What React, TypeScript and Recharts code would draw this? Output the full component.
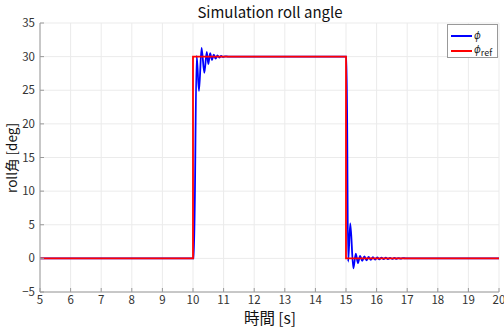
import React from "react";
import { LineChart, Line, XAxis, YAxis, CartesianGrid } from "recharts";

// reference step (phi_ref)
const refT = [5, 10, 10, 15, 15, 20];
const refV = [0, 0, 30, 30, 0, 0];

// response (phi)
const phiT = [
  5, 10.03, 10.12, 10.195, 10.28, 10.37, 10.45, 10.5, 10.56, 10.62, 10.68,
  10.74, 10.8, 10.86, 10.92, 10.98, 11.05, 11.15, 15.02, 15.07, 15.14, 15.24,
  15.32, 15.39, 15.46, 15.53, 15.6, 15.67, 15.74, 15.81, 15.88, 15.95, 16.02,
  16.09, 16.16, 16.23, 16.3, 16.37, 16.44, 16.51, 16.58, 16.65, 16.72, 16.79,
  16.86, 16.95, 20,
];
const phiV = [
  0, 0, 30.1, 24.9, 31.3, 27.6, 30.7, 28.9, 30.5, 29.5, 30.3, 29.7, 30.2,
  29.85, 30.1, 29.95, 30.05, 30, 30, -0.5, 5.2, -1.5, 0.7, -0.7, 0.35, -0.35,
  0.28, -0.28, 0.22, -0.22, 0.18, -0.18, 0.15, -0.15, 0.12, -0.12, 0.1, -0.1,
  0.08, -0.08, 0.06, -0.06, 0.05, -0.05, 0.04, 0, 0,
];

const xTicks = [5, 6, 7, 8, 9, 10, 11, 12, 13, 14, 15, 16, 17, 18, 19, 20];
const yTicks = [-5, 0, 5, 10, 15, 20, 25, 30, 35];

const refData = refT.map((t, i) => ({ t, v: refV[i] }));
const phiData = phiT.map((t, i) => ({ t, v: phiV[i] }));

const font = "'Noto Sans CJK JP', 'Noto Sans', sans-serif";
const axisColor = "#9a9a9a";
const tickStyle = { fontSize: 11.5, fill: "#333", fontFamily: font };
const fmt = (v: number) => String(v).replace("-", "\u2212");

const App: React.FC = () => {
  return (
    <div
      style={{
        position: "absolute",
        left: 0,
        top: 0,
        width: 504,
        height: 329,
        background: "#fff",
        fontFamily: font,
      }}
    >
      <LineChart
        width={504}
        height={329}
        margin={{ top: 23, right: 5, left: 0, bottom: 0 }}
      >
        <CartesianGrid stroke="#ebebeb" />
        <XAxis
          dataKey="t"
          type="number"
          domain={[5, 20]}
          ticks={xTicks}
          interval={0}
          height={37}
          stroke={axisColor}
          tickSize={-4}
          tickMargin={8}
          tick={tickStyle}
          allowDataOverflow
        />
        <XAxis
          xAxisId="top"
          orientation="top"
          type="number"
          domain={[5, 20]}
          ticks={xTicks}
          height={0}
          stroke={axisColor}
          tickSize={-4}
          tick={false}
        />
        <YAxis
          type="number"
          domain={[-5, 35]}
          ticks={yTicks}
          interval={0}
          width={40}
          stroke={axisColor}
          tickSize={-4}
          tickMargin={9}
          tick={tickStyle}
          tickFormatter={fmt}
          allowDataOverflow
        />
        <YAxis
          yAxisId="right"
          orientation="right"
          type="number"
          domain={[-5, 35]}
          ticks={yTicks}
          width={0}
          stroke={axisColor}
          tickSize={-4}
          tick={false}
        />
        <Line
          data={phiData}
          dataKey="v"
          type="monotone"
          stroke="#0000ff"
          strokeWidth={1.8}
          dot={false}
          isAnimationActive={false}
        />
        <Line
          data={refData}
          dataKey="v"
          type="linear"
          stroke="#ff0000"
          strokeWidth={1.8}
          dot={false}
          isAnimationActive={false}
        />
      </LineChart>

      {/* title */}
      <div
        style={{
          position: "absolute",
          left: 0,
          width: 540,
          top: 1,
          textAlign: "center",
          fontSize: 15,
          color: "#111",
        }}
      >
        Simulation roll angle
      </div>

      {/* x label */}
      <div
        style={{
          position: "absolute",
          left: 0,
          width: 540,
          top: 306,
          textAlign: "center",
          fontSize: 15.5,
          color: "#111",
        }}
      >
        時間 [s]
      </div>

      {/* y label */}
      <div
        style={{
          position: "absolute",
          left: 11,
          top: 158,
          transform: "translate(-50%, -50%) rotate(-90deg)",
          whiteSpace: "nowrap",
          fontSize: 13.5,
          lineHeight: "16px",
          color: "#111",
        }}
      >
        roll角 [deg]
      </div>

      {/* legend */}
      <div
        style={{
          position: "absolute",
          left: 447,
          top: 24,
          width: 49,
          height: 32,
          border: "1px solid #999",
          background: "#fff",
          fontSize: 10,
          color: "#222",
        }}
      >
        <div style={{ position: "absolute", left: 3, top: 10, width: 21, height: 2, background: "#0000ff" }} />
        <div style={{ position: "absolute", left: 26, top: 3, lineHeight: "14px", fontStyle: "italic" }}>ϕ</div>
        <div style={{ position: "absolute", left: 3, top: 25, width: 21, height: 2, background: "#ff0000" }} />
        <div style={{ position: "absolute", left: 26, top: 17, lineHeight: "14px" }}>
          <span style={{ fontStyle: "italic" }}>ϕ</span>
          <sub style={{ fontSize: 9, verticalAlign: "-3px" }}>ref</sub>
        </div>
      </div>
    </div>
  );
};

export default App;
